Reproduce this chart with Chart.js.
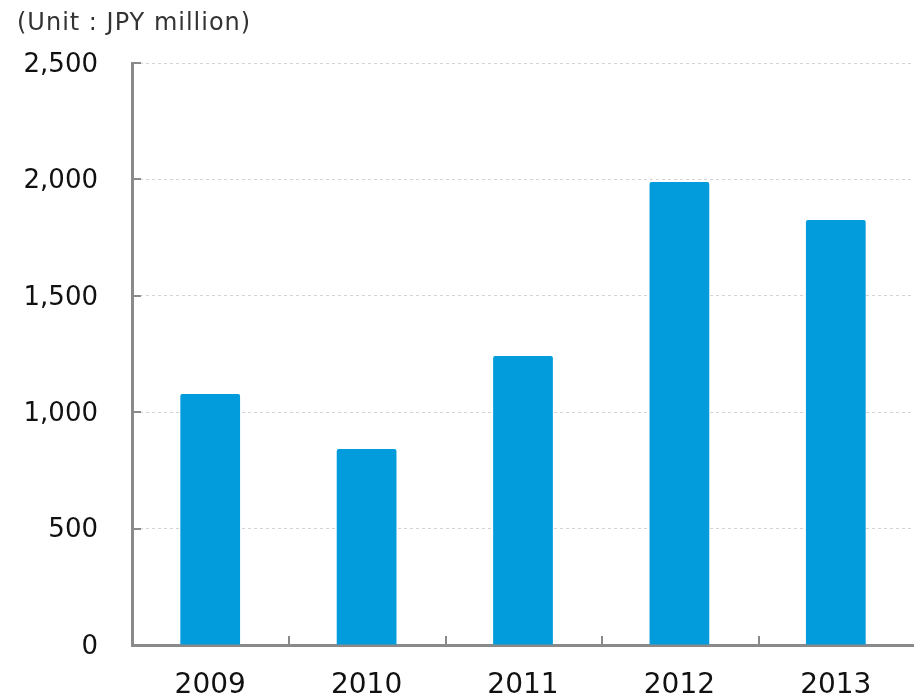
<!DOCTYPE html>
<html>
<head>
<meta charset="utf-8">
<script src="https://cdn.jsdelivr.net/npm/chart.js@4"></script>
<style>
  html, body { margin: 0; padding: 0; background: #fff; }
  #wrap { width: 914px; height: 699px; }
</style>
</head>
<body>
<div id="wrap"><canvas id="myChart" width="914" height="699"></canvas></div>
<script>
const years = ['2009', '2010', '2011', '2012', '2013'];
const sales = [1078, 842, 1241, 1989, 1826];
const yTicks = [0, 500, 1000, 1500, 2000, 2500];
const unitLabel = '(Unit : JPY million)';

const FONT = '"DejaVu Sans", sans-serif';
const AXIS = '#8a8a8a';

// unit caption + the little inward tick marks on both axes
const extras = {
  id: 'extras',
  afterDraw(chart) {
    const ctx = chart.ctx;
    const x = chart.scales.x, y = chart.scales.y;
    const area = chart.chartArea;
    ctx.save();
    ctx.strokeStyle = AXIS;
    ctx.lineWidth = 2;
    ctx.beginPath();
    yTicks.slice(1).forEach(v => {
      const py = Math.round(y.getPixelForValue(v));
      ctx.moveTo(area.left, py);
      ctx.lineTo(area.left + 9, py);
    });
    for (let i = 1; i < years.length; i++) {
      const px = Math.round((x.getPixelForValue(i - 1) + x.getPixelForValue(i)) / 2) + 1;
      ctx.moveTo(px, area.bottom);
      ctx.lineTo(px, area.bottom - 9);
    }
    ctx.stroke();

    ctx.fillStyle = '#333';
    ctx.font = '24px ' + FONT;
    ctx.letterSpacing = '1px';
    ctx.textBaseline = 'middle';
    ctx.textAlign = 'left';
    ctx.fillText(unitLabel, 17, 24);
    ctx.restore();
  }
};

const ctx = document.getElementById('myChart').getContext('2d');
new Chart(ctx, {
  type: 'bar',
  data: {
    labels: years,
    datasets: [{
      data: sales,
      backgroundColor: '#029cdc',
      borderRadius: { topLeft: 2, topRight: 2 },
      borderSkipped: 'bottom',
      barPercentage: 0.382,
      categoryPercentage: 1
    }]
  },
  options: {
    responsive: false,
    animation: false,
    layout: { padding: { top: 63, right: -4, bottom: 0, left: 0 } },
    plugins: { legend: { display: false }, tooltip: { enabled: false } },
    scales: {
      x: {
        z: 1,
        grid: { display: false, drawTicks: false },
        border: { color: AXIS, width: 3 },
        ticks: { color: '#111', font: { family: FONT, size: 28 }, padding: 24 },
        afterFit(scale) { scale.height = 54; }
      },
      y: {
        z: 1,
        min: 0,
        max: 2500,
        afterBuildTicks(scale) { scale.ticks = yTicks.map(v => ({ value: v })); },
        grid: {
          drawTicks: false,
          color: ctx => ctx.tick && ctx.tick.value === 0 ? 'rgba(0,0,0,0)' : '#d4d4d4',
          lineWidth: 1
        },
        // in v4 the dash on the border options is what dashes the gridlines
        border: { color: AXIS, width: 3, dash: [3, 3] },
        ticks: {
          color: '#111',
          font: { family: FONT, size: 26 },
          padding: 34,
          labelOffset: 2,
          callback: v => v.toLocaleString('en-US')
        },
        afterFit(scale) { scale.width = 132; }
      }
    }
  },
  plugins: [extras]
});
</script>
</body>
</html>
